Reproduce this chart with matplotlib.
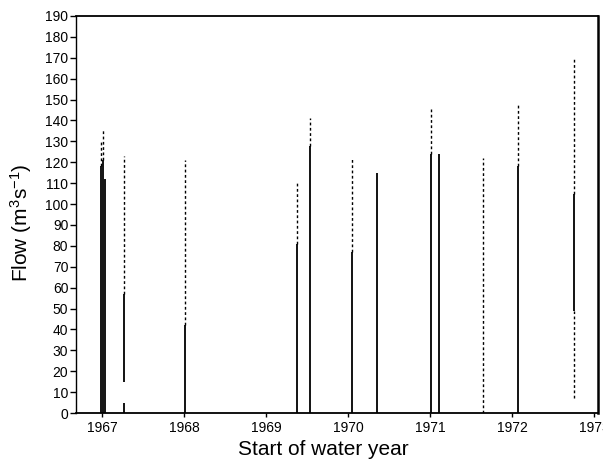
import matplotlib
matplotlib.use("Agg")
import matplotlib.pyplot as plt

plt.rcParams['font.family'] = ['Liberation Sans', 'DejaVu Sans']
plt.rcParams['mathtext.fontset'] = 'custom'
plt.rcParams['mathtext.rm'] = 'Liberation Sans'
plt.rcParams['mathtext.it'] = 'Liberation Sans'
plt.rcParams['mathtext.bf'] = 'Liberation Sans:bold'

# ---- data (start of water year, flow m3/s) ----
# dense (continuous) parts of each flow streak
solid_year = [1966.99, 1967.01, 1967.03, 1967.27, 1967.27, 1968.01, 1969.38,
              1969.54, 1970.05, 1970.35, 1971.01, 1971.11, 1972.07, 1972.76]
solid_low = [0, 0, 0, 15, 0, 0, 0, 0, 0, 0, 0, 0, 0, 49]
solid_high = [118, 121, 112, 57, 5, 42, 81, 128, 77, 115, 124, 124, 118, 105]

# sparse (dotted) parts of each flow streak
sparse_year = [1967.01, 1966.99, 1967.27, 1968.01, 1969.38, 1969.54, 1970.05,
               1971.01, 1971.65, 1972.07, 1972.76, 1972.76]
sparse_low = [121, 118, 57, 42, 81, 128, 77, 124, 0, 118, 105, 7]
sparse_high = [136, 130, 123, 121, 110, 141, 122, 146, 122, 148, 170, 49]

year_ticks = [1967, 1968, 1969, 1970, 1971, 1972, 1973]
flow_ticks = list(range(0, 191, 10))

fig = plt.figure(figsize=(6.03, 4.65), dpi=100)
ax = fig.add_axes([0.126, 0.1118, 0.866, 0.8538])

ax.vlines(solid_year, solid_low, solid_high, colors='black', linewidth=1.3)
ax.vlines(sparse_year, sparse_low, sparse_high, colors='black', linewidth=1.0,
          linestyles=[(0, (2.0, 1.8))])

ax.set_xlim(1966.68, 1973.05)
ax.set_ylim(0, 190)
ax.set_xticks(year_ticks)
ax.set_xticklabels([str(y) for y in year_ticks])
ax.set_yticks(flow_ticks)
ax.set_yticklabels([str(v) for v in flow_ticks])

ax.tick_params(axis='y', direction='out', length=4, width=1, pad=1.5, labelsize=10)
ax.tick_params(axis='x', direction='out', length=3, width=1, pad=3, labelsize=10)

ax.spines['left'].set_linewidth(1.0)
ax.spines['bottom'].set_linewidth(1.3)
ax.spines['top'].set_linewidth(1.3)
ax.spines['right'].set_linewidth(1.8)

ax.set_xlabel('Start of water year', fontsize=15)
ax.xaxis.set_label_coords(0.473, -0.068)
ax.set_ylabel('Flow (m$^3$s$^{-1}$)', fontsize=15)
ax.yaxis.set_label_coords(-0.08, 0.48)

fig.savefig('out.png', dpi=100)
